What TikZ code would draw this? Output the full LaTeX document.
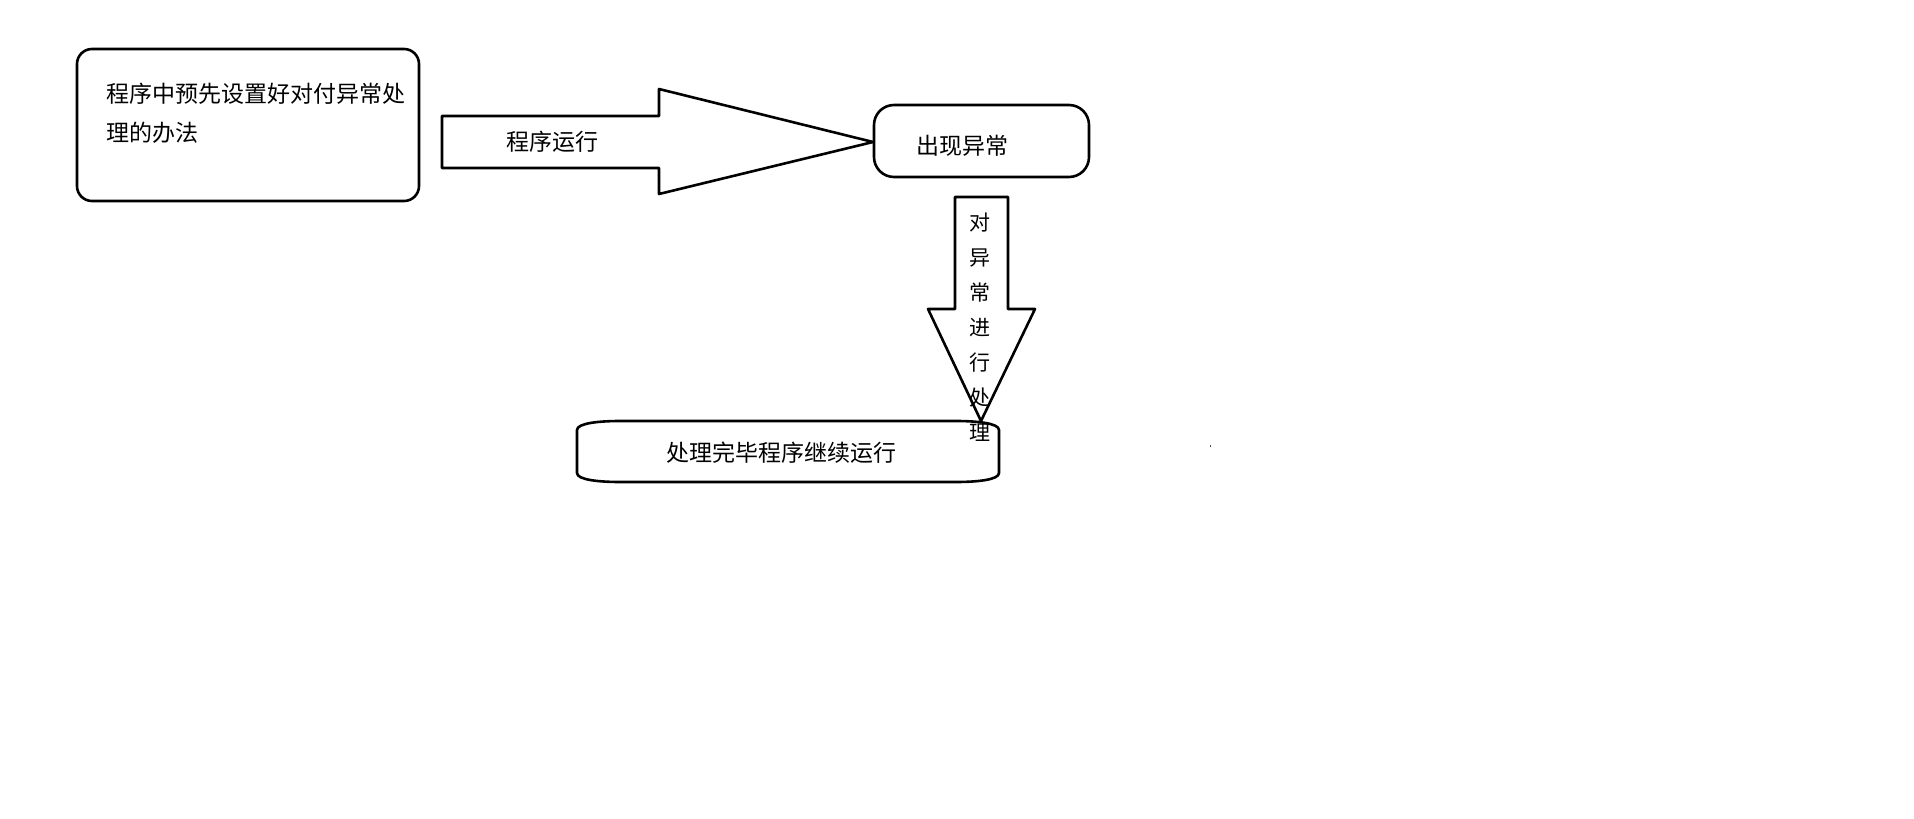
\documentclass[tikz,border=0pt]{standalone}
\usepackage{fontspec}
\newfontfamily\cjk{Noto Sans CJK SC}
\usepackage{tikz}
\usetikzlibrary{calc,positioning}

\tikzset{
  outline/.style={draw, line width=2.6pt, line join=round},
  lbl/.style={font=\cjk\fontsize{23}{27}\selectfont, inner sep=0pt}
}

\begin{document}
\begin{tikzpicture}[x=1pt, y=-1pt]
\useasboundingbox (0,0) rectangle (1914,819);

% Riquadro iniziale
\draw[outline, rounded corners=15pt] (77,49) rectangle (419,201);
\node[lbl, anchor=west, align=left, font=\cjk\fontsize{23}{39}\selectfont] (plan) at (106,113) {程序中预先设置好对付异常处\\理的办法};

% Freccia "程序运行"
\draw[outline] (442,116) -- (659,116) -- (659,89) -- (873,142) -- (659,194) -- (659,168) -- (442,168) -- cycle;
\node[lbl] (run) at (552,142) {程序运行};

% Riquadro "出现异常"
\draw[outline, rounded corners=20pt] (874,105) rectangle (1089,177);
\node[lbl] (fault) at (962,146) {出现异常};

% Freccia verso il basso
\draw[outline] (955,197) -- (1008,197) -- (1008,309) -- (1035,309) -- (981,421) -- (928,309) -- (955,309) -- cycle;
\node[lbl, align=center, font=\cjk\fontsize{21}{35}\selectfont] (handle) at (980,327) {对\\异\\常\\进\\行\\处\\理};

% Riquadro finale
\draw[outline] (577,430) .. controls (577,423) and (600,421) .. (620,421) -- (956,421)
  .. controls (976,421) and (999,423) .. (999,430) -- (999,473)
  .. controls (999,480) and (976,482) .. (956,482) -- (620,482)
  .. controls (600,482) and (577,480) .. (577,473) -- cycle;
\node[lbl] (resume) at (781,453) {处理完毕程序继续运行};

% Punto isolato
\fill[black!70] (1209.5,445) rectangle (1211,446.5);

\end{tikzpicture}
\end{document}
